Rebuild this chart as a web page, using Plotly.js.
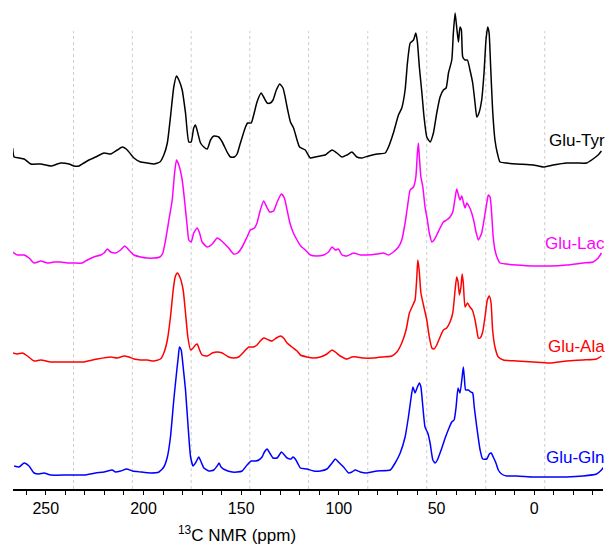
<!DOCTYPE html>
<html>
<head>
<meta charset="utf-8">
<script src="https://cdn.plot.ly/plotly-3.0.1.min.js"></script>
<style>html,body{margin:0;padding:0;background:#fff;}#chart{width:611px;height:546px;}</style>
</head>
<body>
<div id="chart"></div>
<script>
// ---- data (ppm, intensity above own baseline) ----
const seriesNames = ["Glu-Tyr", "Glu-Lac", "Glu-Ala", "Glu-Gln"];
const seriesColors = ["#000000", "#ff00ff", "#ff0000", "#0000ff"];
const seriesOffsets = [325, 226, 128, 15];

const ppmTyr = [267,266.2,263.7,261.1,257.7,252.6,247.5,242.4,238.1,235.6,233.0,230.5,227.9,224.5,220.2,216.8,213.4,210.8,208.3,204.9,201.5,198.1,194.7,191.6,189.6,187.8,186.2,184.5,183.1,181.9,180.2,178.5,176.8,175.6,174.3,173.4,172.2,170.8,169.1,167.4,165.7,164.0,161.5,159.7,157.2,155.5,153.5,152.1,150.4,147.8,146.7,144.9,143.6,141.9,139.8,138.5,136.7,135.1,133.7,132.0,130.3,128.6,127.4,126.2,124.8,123.2,121.4,120.1,117.2,114.6,112.1,109.5,107.0,103.5,101.0,98.4,95.9,93.3,90.8,88.2,84.8,80.5,76.3,74.6,72.1,69.5,67.8,66.1,64.9,63.5,61.8,60.6,59.8,58.8,57.5,56.4,55.0,53.3,51.6,49.9,48.2,46.5,45.1,43.9,42.2,41.4,40.5,39.7,38.8,38.0,37.3,36.6,35.4,34.2,32.9,31.5,30.3,29.4,28.3,26.9,25.7,24.7,23.8,23.1,22.3,21.3,20.1,18.9,17.5,14.1,9.0,0.5,-4.6,-9.7,-16.6,-21.7,-26.8,-30.1,-32.7,-34.4];
const intTyr = [16,7,6,5,0,0,-2,1,0,-2,-2,1,4,7,11,10,14,17,14,6,2,1,0,2,9,21,47,77,88,84,74,51,22,22,36,39,31,21,17,15,24,28,27,22,12,7,7,10,21,37,41,41,49,62,71,67,61,61,64,74,80,76,66,54,42,36,24,17,14,6,7,8,9,14,11,7,9,12,7,6,8,10,11,17,31,49,56,74,101,121,124,131,122,97,71,47,27,22,31,51,67,74,76,91,104,131,151,137,122,137,134,107,104,104,94,81,61,47,51,64,91,124,137,131,97,54,24,11,2,1,0,-1,-3,-1,1,1,1,5,9,13];

const ppmLac = [267.0,264.5,261.1,258.6,256.0,252.6,249.2,245.8,242.4,238.9,235.6,231.3,228.7,225.4,221.9,220.2,218.5,216.8,214.3,211.7,209.7,207.5,204.9,201.5,198.1,194.7,191.6,190.1,188.7,187.0,185.3,184.1,183.1,181.9,180.2,179.0,177.6,176.8,175.6,174.3,172.5,171.3,170.0,167.4,164.8,162.3,160.6,158.9,156.4,153.8,151.8,149.5,147.0,145.3,143.2,141.9,140.2,138.5,136.7,135.4,133.4,131.6,129.4,127.9,126.5,125.2,123.5,121.4,119.5,117.2,114.6,111.2,107.8,105.3,103.5,101.8,100.2,98.4,95.9,92.5,89.1,85.6,80.5,77.2,74.6,72.1,69.5,67.8,66.1,64.9,63.5,61.8,60.6,59.8,59.3,58.8,58.0,57.0,55.9,54.7,53.7,52.4,51.3,49.9,48.2,46.5,44.8,43.1,41.7,40.5,39.7,38.8,38.0,37.1,36.3,35.4,34.5,33.2,32.0,30.8,29.8,28.6,26.9,25.7,24.3,23.5,22.6,21.8,21.0,20.1,18.9,17.5,14.1,9.0,0.5,-8.0,-16.6,-25.0,-30.1,-32.7,-34.4];
const intLac = [11,8,8,5,0,2,0,1,1,0,0,0,3,6,8,10,14,11,10,13,17,13,8,6,5,5,6,10,23,43,63,90,103,98,83,63,36,23,21,30,35,30,21,16,19,25,23,20,15,9,10,16,26,33,35,40,53,62,55,51,52,61,69,65,53,41,31,23,17,13,8,7,8,11,16,13,14,8,7,10,8,8,9,10,8,11,16,23,40,56,73,76,86,110,120,106,86,76,56,43,30,21,23,28,35,41,43,46,51,65,74,68,63,67,61,55,60,56,50,41,31,23,30,43,60,68,66,50,26,13,5,0,-1,-2,-3,-3,-2,0,1,5,10];

const ppmAla = [267.0,264.5,261.9,259.4,256.0,252.6,247.5,238.9,230.5,223.6,216.8,213.4,210.0,207.5,204.9,201.5,198.1,194.7,191.3,189.6,187.8,186.2,184.8,183.8,182.7,181.4,179.7,178.5,177.3,175.9,174.6,173.4,172.5,171.3,170.0,167.4,164.8,162.3,159.7,156.4,153.8,151.3,148.7,146.1,143.6,141.9,140.2,138.5,135.9,134.2,132.0,129.9,128.3,126.5,124.0,121.4,119.7,116.3,112.9,109.5,106.1,103.5,101.8,99.3,95.9,93.3,90.8,87.4,82.3,77.2,72.9,70.3,67.8,65.6,63.9,62.1,61.0,60.1,59.6,58.9,58.0,56.7,55.0,53.7,52.4,51.3,49.9,48.2,46.5,44.8,43.1,41.7,40.5,39.7,39.0,38.3,37.5,36.9,36.3,35.4,34.2,32.9,31.7,30.3,29.4,28.6,27.7,26.4,25.2,24.0,23.0,22.1,21.3,20.1,18.4,15.8,9.0,0.5,-8.0,-16.6,-25.0,-31.9,-34.4];
const intAla = [8,7,8,5,0,1,-1,-1,-1,2,4,3,5,4,2,1,1,0,2,8,21,44,71,84,88,84,71,48,24,11,13,16,17,11,6,5,8,9,8,4,3,4,9,14,14,16,20,23,21,20,23,25,23,18,14,10,6,4,3,4,7,11,9,5,2,4,4,3,3,4,5,9,18,31,48,56,61,84,101,91,68,56,41,24,13,12,16,24,31,33,39,48,71,84,79,66,74,87,78,54,58,54,51,41,31,23,23,29,44,61,65,58,31,14,4,1,0,-1,-2,0,1,2,5];

const ppmGln = [266.2,263.7,261.1,258.6,256.0,253.5,250.9,247.5,238.9,230.5,224.5,220.2,216.0,214.3,211.7,208.6,205.7,201.5,196.4,192.1,189.6,187.8,186.2,184.5,183.1,182.2,181.6,180.7,179.7,178.5,177.3,175.9,174.6,173.4,171.7,170.5,169.1,166.6,164.0,162.3,161.3,160.3,158.1,154.6,152.1,149.5,147.0,144.9,142.7,141.0,139.3,138.1,136.7,135.4,133.7,131.6,129.4,127.9,126.5,124.5,123.5,122.3,120.6,119.7,116.3,112.9,109.5,106.1,103.5,101.8,100.2,97.6,95.0,93.3,91.6,89.1,85.6,80.5,73.7,71.2,68.6,66.1,64.4,63.2,62.1,61.0,59.8,58.8,58.0,57.0,55.9,54.5,53.3,51.9,50.7,49.6,47.3,45.6,43.4,42.2,41.0,40.0,39.0,38.0,36.9,36.3,35.8,35.1,33.7,32.5,31.5,30.7,29.4,27.7,26.4,24.3,23.0,22.0,21.0,19.6,18.4,16.7,14.1,9.0,0.5,-8.0,-16.6,-25.0,-31.9,-34.4,-35.6];
const intGln = [8,7,11,8,1,0,1,-1,-1,-1,1,2,4,2,3,5,3,2,1,2,7,17,37,74,101,117,127,124,107,84,51,17,8,11,17,12,6,3,4,8,11,7,4,2,2,3,9,13,13,14,17,22,25,21,16,16,22,19,16,15,17,15,9,6,5,3,3,5,11,15,12,7,1,2,4,2,1,3,4,11,21,37,57,74,87,81,87,91,87,67,47,41,31,14,11,14,26,36,47,52,54,67,86,81,97,107,97,84,84,82,81,67,47,24,15,15,20,21,17,11,4,0,-2,-2,-3,-3,-3,-2,0,4,7];

const ppmSeries = [ppmTyr, ppmLac, ppmAla, ppmGln];
const intSeries = [intTyr, intLac, intAla, intGln];

const xRange = [266.8, -35.2];
const gridPpm = [235.8, 205.7, 175.6, 145.6, 115.5, 85.2, 55.0, 24.8, -5.4];
const xTitle = "<sup>13</sup>C NMR (ppm)";
const headerText = "Results and Discussion";

// ---- build traces ----
const traces = seriesNames.map((name, i) => ({
  type: "scatter",
  mode: "lines",
  name: name,
  x: ppmSeries[i],
  y: intSeries[i].map(v => v + seriesOffsets[i]),
  line: {color: seriesColors[i], width: 1.5, shape: "spline", smoothing: 0.5},
  hoverinfo: "skip"
}));

const FONT = "Arial, 'Liberation Sans', sans-serif";
const labelY = [24, 20, 15, 17];

const annotations = seriesNames.map((name, i) => ({
  text: name, xref: "paper", yref: "y",
  x: 1.0068, y: seriesOffsets[i] + labelY[i],
  xanchor: "right", yanchor: "middle", showarrow: false,
  font: {family: FONT, size: 17, color: seriesColors[i]}
}));
annotations.push({
  text: xTitle, xref: "paper", yref: "paper", x: 0.38, y: -0.093,
  xanchor: "center", yanchor: "middle", showarrow: false,
  font: {family: FONT, size: 17, color: "#000"}
});
annotations.push({
  text: headerText, xref: "paper", yref: "paper", x: 0.045, y: 1,
  xanchor: "left", yanchor: "bottom", yshift: 0, showarrow: false,
  font: {family: FONT, size: 20, color: "#666"}
});

const shapes = gridPpm.map(p => ({
  type: "line", xref: "x", yref: "paper", x0: p, x1: p, y0: 0, y1: 0.946,
  line: {color: "#cccccc", width: 1, dash: "dot"}, layer: "below"
}));

const layout = {
  width: 611, height: 546,
  margin: {l: 13, r: 8, t: 5, b: 57},
  paper_bgcolor: "#fff", plot_bgcolor: "#fff",
  showlegend: false,
  xaxis: {
    range: xRange, showgrid: false, zeroline: false,
    showline: true, linecolor: "#000", linewidth: 2,
    ticks: "outside", ticklen: 4, tickwidth: 1, tickcolor: "#000",
    tick0: 0, dtick: 50,
    minor: {dtick: 10, ticks: "outside", ticklen: 4, tickwidth: 1, tickcolor: "#000"},
    tickfont: {family: FONT, size: 16, color: "#000"}
  },
  yaxis: {visible: false, range: [0, 484], fixedrange: true},
  annotations: annotations,
  shapes: shapes
};

Plotly.newPlot("chart", traces, layout, {staticPlot: true, displayModeBar: false});
</script>
</body>
</html>
